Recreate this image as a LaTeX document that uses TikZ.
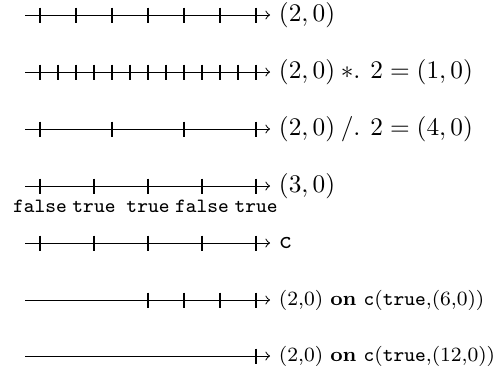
\documentclass[tikz,border=0pt]{standalone}
\begin{document}
\begin{tikzpicture}[x=0.0138889cm, y=-0.0138889cm,
  axisline/.style={draw=black, line width=0.4pt, ->},
  tickmark/.style={draw=black, line width=0.4pt},
  endlabel/.style={anchor=west, inner sep=3.33pt},
  boollabel/.style={anchor=base, inner sep=0pt, font=\footnotesize\ttfamily}]
\useasboundingbox (0,0) rectangle (494,371);
% row 1
\coordinate (s1) at (25,15); \coordinate (e1) at (270,15);
\draw[axisline] (s1) -- (e1);
\foreach \x in {40,76,...,256} \draw[tickmark] (\x,7.5) -- (\x,22.5);
\node[endlabel] (l1) at (e1) {$(2,0)$};
% row 2
\coordinate (s2) at (25,72); \coordinate (e2) at (270,72);
\draw[axisline] (s2) -- (e2);
\foreach \x in {40,58,...,256} \draw[tickmark] (\x,64.5) -- (\x,79.5);
\node[endlabel] (l2) at (e2) {$(2,0)\mathbin{\ast.\,}2=(1,0)$};
% row 3
\coordinate (s3) at (25,129); \coordinate (e3) at (270,129);
\draw[axisline] (s3) -- (e3);
\foreach \x in {40,112,...,256} \draw[tickmark] (\x,121.5) -- (\x,136.5);
\node[endlabel] (l3) at (e3) {$(2,0)\mathbin{/.\,}2=(4,0)$};
% row 4
\coordinate (s4) at (25,186); \coordinate (e4) at (270,186);
\draw[axisline] (s4) -- (e4);
\foreach \x in {40,94,...,256} \draw[tickmark] (\x,178.5) -- (\x,193.5);
\node[endlabel] (l4) at (e4) {$(3,0)$};
% row 5
\coordinate (s5) at (25,243); \coordinate (e5) at (270,243);
\draw[axisline] (s5) -- (e5);
\foreach \x in {40,94,...,256} \draw[tickmark] (\x,235.5) -- (\x,250.5);
\node[endlabel] (l5) at (e5) {\texttt{c}};
\node[boollabel] (b1) at (40,212) {false};
\node[boollabel] (b2) at (94,212) {true};
\node[boollabel] (b3) at (148,212) {true};
\node[boollabel] (b4) at (202,212) {false};
\node[boollabel] (b5) at (256,212) {true};
% row 6
\coordinate (s6) at (25,300); \coordinate (e6) at (270,300);
\draw[axisline] (s6) -- (e6);
\foreach \x in {148,184,...,256} \draw[tickmark] (\x,292.5) -- (\x,307.5);
\node[endlabel, font=\footnotesize] (l6) at (e6) {(2,0) \textbf{on} \texttt{c}(\texttt{true},(6,0))};
% row 7
\coordinate (s7) at (25,356); \coordinate (e7) at (270,356);
\draw[axisline] (s7) -- (e7);
\draw[tickmark] (256,348.5) -- (256,363.5);
\node[endlabel, font=\footnotesize] (l7) at (e7) {(2,0) \textbf{on} \texttt{c}(\texttt{true},(12,0))};
\end{tikzpicture}
\end{document}
